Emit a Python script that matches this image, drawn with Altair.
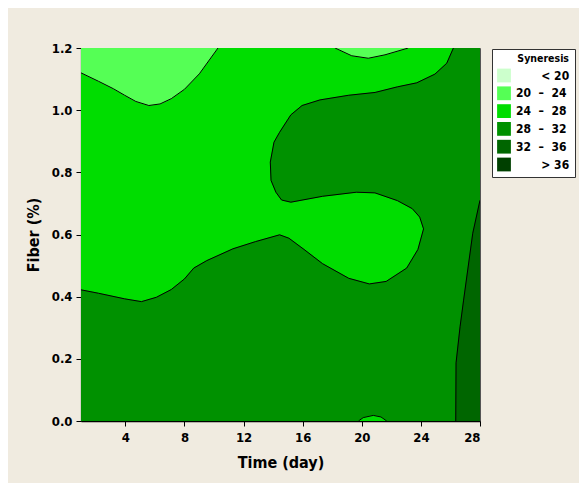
import altair as alt
import pandas as pd

FONT = "DejaVu Sans Condensed"

# ---- legend categories / colours ----
levels = ["< 20", "20 – 24", "24 – 28", "28 – 32", "32 – 36", "> 36"]
colors = ["#ccffcc", "#55ff55", "#00dd00", "#009100", "#006600", "#004000"]

# ---- contour lines (Time, Fiber) ----
# 24 contour, upper-left (20-24 region above it)
c24a_x = [1.0, 2.18, 3.19, 3.95, 4.71, 5.59, 6.35, 7.11, 8.0, 9.01, 10.27]
c24a_y = [1.12, 1.093, 1.069, 1.048, 1.028, 1.015, 1.020, 1.037, 1.067, 1.117, 1.2]
# 24 contour, small region at top
c24b_x = [18.19, 19.32, 20.44, 21.57, 23.15]
c24b_y = [1.2, 1.175, 1.167, 1.178, 1.2]
# 28 contour (28-32 region below/right of it)
c28_x = [1.0, 2.18, 3.95, 5.09, 6.10, 7.11, 8.0, 8.63, 9.51, 11.28, 12.8, 14.44,
         15.07, 16.09, 17.35, 19.12, 20.51, 21.65, 23.04, 23.8, 24.18, 23.92,
         23.42, 22.41, 20.89, 19.63, 17.35, 15.2, 14.57, 14.19, 13.86, 13.81,
         14.06, 14.44, 15.2, 15.96, 17.17, 19.12, 20.9, 22.41, 23.72, 24.95,
         25.75, 26.2]
c28_y = [0.422, 0.411, 0.393, 0.384, 0.398, 0.423, 0.457, 0.492, 0.516, 0.554,
         0.577, 0.599, 0.588, 0.552, 0.506, 0.459, 0.441, 0.449, 0.492, 0.552,
         0.618, 0.656, 0.683, 0.709, 0.734, 0.736, 0.723, 0.704, 0.711, 0.736,
         0.774, 0.833, 0.897, 0.929, 0.985, 1.015, 1.033, 1.048, 1.057, 1.075,
         1.088, 1.116, 1.151, 1.2]
# 28 contour, small bump at the bottom (24-28 inside)
c28b_x = [19.77, 20.1, 20.78, 21.3, 21.69]
c28b_y = [0.0, 0.011, 0.018, 0.013, 0.0]
# 32 contour at the right edge (32-36 region right of it)
c32_x = [26.36, 26.38, 26.65, 26.89, 27.51, 27.93, 28.0]
c32_y = [0.0, 0.187, 0.303, 0.389, 0.604, 0.695, 0.71]

# plot extent
x_min, x_max = 1.0, 28.0
y_min, y_max = 0.0, 1.2
x_ticks = [4, 8, 12, 16, 20, 24, 28]
y_ticks = [0.0, 0.2, 0.4, 0.6, 0.8, 1.0, 1.2]

xs = alt.Scale(domain=[x_min, x_max], nice=False, zero=False)
ys = alt.Scale(domain=[y_min, y_max], nice=False, zero=False)


def frame(xv, yv):
    return pd.DataFrame({"x": xv, "y": yv, "i": list(range(len(xv)))})


def polygon(xv, yv, color):
    df = frame(xv, yv)
    return alt.Chart(df).mark_line(
        fill=color, stroke=color, strokeWidth=0.6, clip=True, interpolate="linear"
    ).encode(
        x=alt.X("x:Q", scale=xs),
        y=alt.Y("y:Q", scale=ys),
        order="i:Q",
    )


def contour(xv, yv):
    df = frame(xv, yv)
    return alt.Chart(df).mark_line(
        color="black", strokeWidth=1, clip=True
    ).encode(
        x=alt.X("x:Q", scale=xs),
        y=alt.Y("y:Q", scale=ys),
        order="i:Q",
    )


# legend carrier (hidden beneath the background fill)
leg_df = pd.DataFrame({"x": [10.0] * 6, "y": [0.6] * 6, "level": levels})
legend_label_expr = (
    "(datum.label == '< 20' || datum.label == '> 36' ? "
    "'\u2800\u2800\u2800' + datum.label : "
    "replace(datum.label, ' – ', ' \u00a0\u2013\u00a0 ')) + '\u00a0\u00a0'"
)
legend_layer = alt.Chart(leg_df).mark_square(size=60, clip=True).encode(
    x=alt.X("x:Q", scale=xs, axis=alt.Axis(
        values=x_ticks, title="Time (day)", grid=False, labelFont=FONT,
        labelFontSize=13, labelFontWeight="bold", labelColor="black",
        titleFont=FONT, titleFontSize=16, titleFontWeight="bold",
        titleColor="black", tickSize=5, tickColor="black", domainColor="black",
        domainWidth=1.5, labelPadding=5, titlePadding=10)),
    y=alt.Y("y:Q", scale=ys, axis=alt.Axis(
        values=y_ticks, format=".1f", title="Fiber (%)", grid=False,
        labelFont=FONT, labelFontSize=13, labelFontWeight="bold",
        labelColor="black", titleFont=FONT, titleFontSize=16,
        titleFontWeight="bold", titleColor="black", tickSize=5,
        tickColor="black", domainColor="black", domainWidth=1.2,
        labelPadding=4, titlePadding=10)),
    color=alt.Color("level:N", scale=alt.Scale(domain=levels, range=colors),
                    legend=alt.Legend(
                        title="Syneresis", orient="none", legendX=411,
                        legendY=1, symbolType="square", symbolSize=190,
                        symbolStrokeWidth=0, symbolOpacity=1,
                        labelFont=FONT, labelFontSize=12,
                        labelFontWeight="bold", labelColor="black",
                        labelExpr=legend_label_expr, labelOffset=5,
                        labelLimit=200,
                        titleFont=FONT, titleFontSize=10.5,
                        titleFontWeight="bold", titleColor="black",
                        titleAnchor="end", titlePadding=4, rowPadding=3.8,
                        padding=5, fillColor="white", strokeColor="#333333",
                        cornerRadius=0)),
)

bg_df = pd.DataFrame({"x": [x_min], "x2": [x_max], "y": [y_min], "y2": [y_max]})
background = alt.Chart(bg_df).mark_rect(color=colors[2]).encode(
    x=alt.X("x:Q", scale=xs), x2="x2:Q",
    y=alt.Y("y:Q", scale=ys), y2="y2:Q",
)

p24a = polygon(c24a_x + [1.0, 1.0], c24a_y + [1.2, 1.12], colors[1])
p24b = polygon(c24b_x + [18.19], c24b_y + [1.2], colors[1])
p28 = polygon(c28_x + [28.0, 28.0, 1.0, 1.0], c28_y + [1.2, 0.0, 0.0, 0.422], colors[3])
p28b = polygon(c28b_x + [19.77], c28b_y + [0.0], colors[2])
p32 = polygon(c32_x + [28.0, 26.36], c32_y + [0.0, 0.0], colors[4])

chart = alt.layer(
    legend_layer, background, p24a, p24b, p28, p28b, p32,
    contour(c24a_x, c24a_y), contour(c24b_x, c24b_y),
    contour(c28_x, c28_y), contour(c28b_x, c28b_y), contour(c32_x, c32_y),
).properties(
    width=399, height=373,
    background="#f0ebe0",
    padding={"left": 73, "top": 40, "right": 99, "bottom": 62},
    autosize=alt.AutoSizeParams(type="none"),
).configure_view(stroke="#555555", strokeWidth=1)

chart.save("out.html", embed_options={"renderer": "svg", "actions": False})
